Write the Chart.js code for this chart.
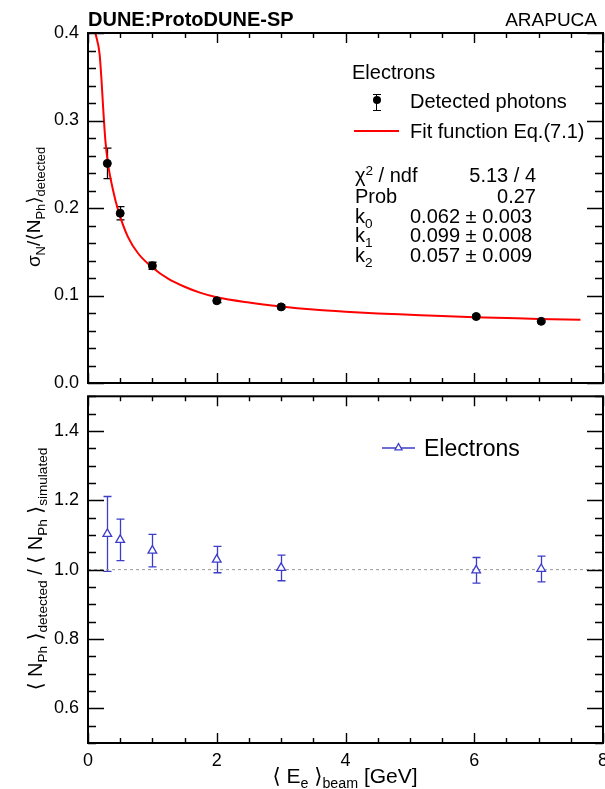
<!DOCTYPE html>
<html>
<head>
<meta charset="utf-8">
<script src="https://cdn.jsdelivr.net/npm/chart.js@4.4.1/dist/chart.umd.min.js"></script>
<style>
  body { margin: 0; background: #fff; }
  #wrap { position: relative; width: 605px; height: 789px; overflow: hidden; font-family: "Liberation Sans", Arial, sans-serif; color: #000; }
  canvas { position: absolute; left: 0; }
  .t { position: absolute; white-space: nowrap; line-height: 1; }
  .t sub { font-size: 68%; vertical-align: baseline; position: relative; top: 0.38em; }
  .t sup { font-size: 68%; vertical-align: baseline; position: relative; top: -0.55em; }
  .rot { transform-origin: 0 0; transform: rotate(-90deg) translate(-50%, -50%); }
  .ang { font-family: "DejaVu Sans", sans-serif; font-weight: normal; }
</style>
</head>
<body>
<div id="wrap">
  <canvas id="topChart" width="615" height="390" style="top:0"></canvas>
  <canvas id="bottomChart" width="615" height="399" style="top:390px"></canvas>

  <!-- 見出し -->
  <div class="t" style="left:88px; top:9px; font-size:20px; font-weight:bold;">DUNE:ProtoDUNE-SP</div>
  <div class="t" style="right:8px; top:10px; font-size:19px;">ARAPUCA</div>

  <!-- 上段の凡例と統計 -->
  <div class="t" style="left:352px; top:62px; font-size:20px;">Electrons</div>
  <div style="position:absolute; left:376px; top:94px; width:1px; height:17px; background:#000;"></div>
  <div style="position:absolute; left:373px; top:94px; width:8px; height:1px; background:#000;"></div>
  <div style="position:absolute; left:373px; top:110px; width:8px; height:1px; background:#000;"></div>
  <div style="position:absolute; left:373px; top:96px; width:8px; height:8px; border-radius:50%; background:#000;"></div>
  <div class="t" style="left:410px; top:91px; font-size:20px;">Detected photons</div>
  <div style="position:absolute; left:354px; top:130px; width:45px; height:2px; background:#ff0000;"></div>
  <div class="t" style="left:410px; top:121px; font-size:20px;">Fit function Eq.(7.1)</div>

  <div class="t" style="left:355px; top:165px; font-size:20px;">χ<sup>2</sup> / ndf</div>
  <div class="t" style="right:69px; top:165px; font-size:20px;">5.13 / 4</div>
  <div class="t" style="left:355px; top:186px; font-size:20px;">Prob</div>
  <div class="t" style="right:69px; top:186px; font-size:20px;">0.27</div>
  <div class="t" style="left:355px; top:206px; font-size:20px;">k<sub>0</sub></div>
  <div class="t" style="left:410px; top:206px; font-size:20px;">0.062 ± 0.003</div>
  <div class="t" style="left:355px; top:225px; font-size:20px;">k<sub>1</sub></div>
  <div class="t" style="left:410px; top:225px; font-size:20px;">0.099 ± 0.008</div>
  <div class="t" style="left:355px; top:245px; font-size:20px;">k<sub>2</sub></div>
  <div class="t" style="left:410px; top:245px; font-size:20px;">0.057 ± 0.009</div>

  <!-- 下段の凡例 -->
  <svg style="position:absolute; left:380px; top:440px;" width="40" height="16">
    <line x1="2" y1="8" x2="35" y2="8" stroke="#3c3cc8" stroke-width="1.3"/>
    <polygon points="18.5,3.5 22,9.8 15,9.8" fill="#fff" stroke="#3c3cc8" stroke-width="1.3"/>
  </svg>
  <div class="t" style="left:424px; top:437px; font-size:23px;">Electrons</div>

  <!-- 軸タイトル -->
  <div class="t rot" style="left:33px; top:207px; font-size:19px;">σ<sub>N</sub>/<span class="ang">⟨</span>N<sub>Ph</sub><span class="ang">⟩</span><sub>detected</sub></div>
  <div class="t rot" style="left:35px; top:569px; font-size:20px;"><span class="ang">⟨</span> N<sub>Ph</sub> <span class="ang">⟩</span><sub>detected</sub> / <span class="ang">⟨</span> N<sub>Ph</sub> <span class="ang">⟩</span><sub>simulated</sub></div>
  <div class="t" style="left:345px; top:765px; font-size:21px; transform:translateX(-50%);"><span class="ang">⟨</span> E<sub>e</sub> <span class="ang">⟩</span><sub>beam</sub> [GeV]</div>
</div>

<script>
// データ
const energies = [0.3, 0.5, 1.0, 2.0, 3.0, 6.03, 7.04];
const resolution = [0.251, 0.194, 0.134, 0.094, 0.087, 0.076, 0.0705];
const resolutionErr = [0.0175, 0.0076, 0.004, 0.002, 0.002, 0.0015, 0.0015];

// フィット曲線（図から読み取った点）
const fitEnergy = [0.115, 0.18, 0.21, 0.235, 0.27, 0.31, 0.39, 0.47, 0.62, 0.78, 1.0,
                   1.25, 1.5, 1.75, 2.0, 2.5, 3.0, 3.5, 4.0, 4.5, 5.0, 5.5, 6.0, 6.5, 7.0, 7.65];
const fitValue = [0.400, 0.376, 0.346, 0.315, 0.277, 0.251, 0.220, 0.197, 0.167, 0.148, 0.132,
                  0.119, 0.110, 0.103, 0.098, 0.092, 0.0875, 0.084, 0.0815, 0.0795, 0.078, 0.0765, 0.0752, 0.0742, 0.0732, 0.0722];

// 比（検出 / シミュレーション）
const ratio = [1.103, 1.086, 1.055, 1.029, 1.005, 0.998, 1.002];
const ratioErr = [0.108, 0.060, 0.047, 0.038, 0.037, 0.037, 0.037];
const refRatio = 1.0;

// 目盛り
const xTicks = [0, 2, 4, 6, 8];
const topYTicks = [0, 0.1, 0.2, 0.3, 0.4];
const bottomYTicks = [0.6, 0.8, 1.0, 1.2, 1.4];

const blue = '#3c3cc8';
const fontFamily = '"Liberation Sans", Arial, sans-serif';

// エラーバーを描く
const errorBars = {
    id: 'errorBars',
    beforeDatasetsDraw(chart) {
        const { ctx, scales: { x, y } } = chart;
        chart.data.datasets.forEach(ds => {
            if (!ds.errors) return;
            ctx.save();
            ctx.strokeStyle = ds.borderColor;
            ctx.lineWidth = 1.3;
            ds.data.forEach((p, j) => {
                const px = Math.round(x.getPixelForValue(p.x)) + 0.5;
                const y0 = y.getPixelForValue(p.y - ds.errors[j]);
                const y1 = y.getPixelForValue(p.y + ds.errors[j]);
                ctx.beginPath();
                ctx.moveTo(px, y0); ctx.lineTo(px, y1);
                ctx.moveTo(px - 4, y0); ctx.lineTo(px + 4, y0);
                ctx.moveTo(px - 4, y1); ctx.lineTo(px + 4, y1);
                ctx.stroke();
            });
            ctx.restore();
        });
    }
};

// ROOT 風の枠と内向きの目盛り
const frameTicks = {
    id: 'frameTicks',
    afterDraw(chart, args, opts) {
        const { ctx, chartArea: a, scales: { x, y } } = chart;
        ctx.save();
        ctx.strokeStyle = '#000';
        ctx.lineWidth = 1.4;
        ctx.beginPath();
        const nx = Math.round((x.max - x.min) / opts.xMinor);
        for (let i = 0; i <= nx; i++) {
            const v = x.min + i * opts.xMinor;
            const major = Math.abs(v / opts.xMajor - Math.round(v / opts.xMajor)) < 1e-6;
            const len = major ? 10 : 5;
            const px = Math.round(x.getPixelForValue(v)) + 0.5;
            ctx.moveTo(px, a.bottom); ctx.lineTo(px, a.bottom - len);
            ctx.moveTo(px, a.top); ctx.lineTo(px, a.top + len);
        }
        const ny = Math.round((y.max - y.min) / opts.yMinor);
        for (let i = 0; i <= ny; i++) {
            const v = y.min + i * opts.yMinor;
            const major = Math.abs(v / opts.yMajor - Math.round(v / opts.yMajor)) < 1e-6;
            const len = major ? 16 : 8;
            const py = Math.round(y.getPixelForValue(v)) + 0.5;
            ctx.moveTo(a.left, py); ctx.lineTo(a.left + len, py);
            ctx.moveTo(a.right, py); ctx.lineTo(a.right - len, py);
        }
        ctx.stroke();
        ctx.lineWidth = 2;
        ctx.strokeRect(a.left, a.top, a.right - a.left, a.bottom - a.top);
        ctx.restore();
    }
};

const tickFont = { size: 18, family: fontFamily };

// 縦軸の幅を固定し、ラベルによる余白を消す
function fixYAxis(s) {
    s.width = 88;
    s.paddingTop = 0;
    s.paddingBottom = 0;
}

// 上段：分解能
new Chart(document.getElementById('topChart'), {
    type: 'scatter',
    data: {
        datasets: [
            {
                label: 'Detected photons',
                data: energies.map((e, i) => ({ x: e, y: resolution[i] })),
                errors: resolutionErr,
                pointRadius: 4,
                backgroundColor: '#000',
                borderColor: '#000',
                order: 0
            },
            {
                label: 'Fit function Eq.(7.1)',
                data: fitEnergy.map((e, i) => ({ x: e, y: fitValue[i] })),
                showLine: true,
                borderColor: '#ff0000',
                borderWidth: 2,
                pointRadius: 0,
                cubicInterpolationMode: 'monotone',
                order: 1
            }
        ]
    },
    options: {
        responsive: false,
        animation: false,
        layout: { padding: { top: 33, right: 12, bottom: 7, left: 0 } },
        plugins: {
            legend: { display: false },
            tooltip: { enabled: false },
            frameTicks: { xMajor: 2, xMinor: 0.5, yMajor: 0.1, yMinor: 0.02 }
        },
        scales: {
            x: { type: 'linear', min: 0, max: 8, display: false },
            y: {
                min: 0, max: 0.4,
                grid: { display: false, drawTicks: false },
                border: { display: false },
                afterFit: fixYAxis,
                afterBuildTicks(s) { s.ticks = topYTicks.map(v => ({ value: v })); },
                ticks: { padding: 9, color: '#000', font: tickFont, callback: v => v.toFixed(1) }
            }
        }
    },
    plugins: [errorBars, frameTicks]
});

// 下段：比
new Chart(document.getElementById('bottomChart'), {
    type: 'scatter',
    data: {
        datasets: [
            {
                label: 'Electrons',
                data: energies.map((e, i) => ({ x: e, y: ratio[i] })),
                errors: ratioErr,
                pointStyle: 'triangle',
                pointRadius: 5,
                borderWidth: 1.3,
                backgroundColor: '#fff',
                borderColor: blue,
                order: 0
            },
            {
                label: 'ref',
                data: [{ x: 0, y: refRatio }, { x: 8, y: refRatio }],
                showLine: true,
                borderColor: '#999',
                borderWidth: 1,
                borderDash: [3, 3],
                pointRadius: 0,
                order: 1
            }
        ]
    },
    options: {
        responsive: false,
        animation: false,
        layout: { padding: { top: 3, right: 12, bottom: 0, left: 0 } },
        plugins: {
            legend: { display: false },
            tooltip: { enabled: false },
            frameTicks: { xMajor: 2, xMinor: 0.5, yMajor: 0.2, yMinor: 0.05 }
        },
        scales: {
            x: {
                type: 'linear', min: 0, max: 8,
                grid: { display: false, drawTicks: false },
                border: { display: false },
                afterFit(s) { s.height = 46; s.paddingLeft = 0; s.paddingRight = 0; },
                afterBuildTicks(s) { s.ticks = xTicks.map(v => ({ value: v })); },
                ticks: { padding: 7, color: '#000', font: tickFont, maxRotation: 0, callback: v => String(v) }
            },
            y: {
                min: 0.5, max: 1.5,
                grid: { display: false, drawTicks: false },
                border: { display: false },
                afterFit: fixYAxis,
                afterBuildTicks(s) { s.ticks = bottomYTicks.map(v => ({ value: v })); },
                ticks: { padding: 9, color: '#000', font: tickFont, callback: v => v.toFixed(1) }
            }
        }
    },
    plugins: [errorBars, frameTicks]
});
</script>
</body>
</html>
